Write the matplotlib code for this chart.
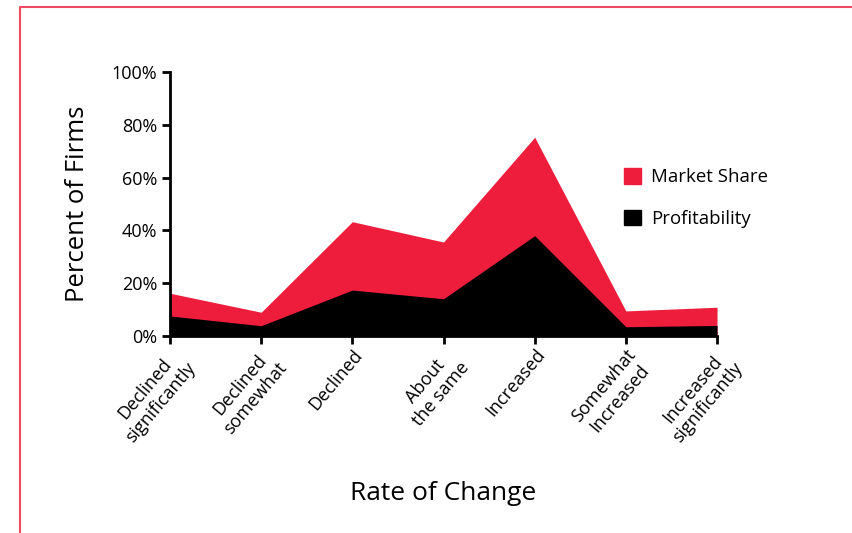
import matplotlib
matplotlib.use('Agg')
from matplotlib import pyplot as plt
from matplotlib.patches import Patch
from matplotlib.lines import Line2D
import numpy as np

categories = ['Declined\nsignificantly', 'Declined\nsomewhat', 'Declined',
              'About\nthe same', 'Increased', 'Somewhat\nIncreased',
              'Increased\nsignificantly']
market_share = [16.2, 9.0, 43.3, 35.6, 75.3, 9.5, 10.9]
profitability = [7.6, 3.9, 17.4, 14.1, 38.0, 3.5, 4.0]
y_ticks = [0, 20, 40, 60, 80, 100]

RED = '#ee1d3c'
plt.rcParams['font.family'] = ['Open Sans', 'DejaVu Sans']

fig = plt.figure(figsize=(8.53, 5.33), dpi=100)
ax = fig.add_axes([0.1993, 0.3696, 0.6413, 0.4953])

x = np.arange(len(categories))
ax.fill_between(x, 0, market_share, color=RED, linewidth=0)
ax.fill_between(x, 0, profitability, color='black', linewidth=0)

ax.set_xlim(0, len(categories) - 1)
ax.set_ylim(0, 100)
ax.set_yticks(y_ticks)
ax.set_yticklabels(['%d%%' % v for v in y_ticks], fontsize=13)
ax.set_xticks(x)
ax.set_xticklabels(categories, fontsize=13, rotation=50, ha='right',
                   va='top', rotation_mode='anchor', multialignment='center',
                   linespacing=1.15)

for side in ['top', 'right']:
    ax.spines[side].set_visible(False)
for side in ['left', 'bottom']:
    ax.spines[side].set_linewidth(2)
ax.tick_params(axis='both', length=6, width=2, direction='out')
ax.tick_params(axis='x', pad=1)
ax.tick_params(axis='y', pad=3)

ax.set_ylabel('Percent of Firms', fontsize=18.5)
ax.set_xlabel('Rate of Change', fontsize=19)
ax.yaxis.set_label_coords(-0.147, 0.5)
ax.xaxis.set_label_coords(0.5, -0.55)

handles = [Patch(color=RED, label='Market Share'),
           Patch(color='black', label='Profitability')]
fig.legend(handles=handles, loc='upper left', bbox_to_anchor=(0.712, 0.716),
           frameon=False, fontsize=13.4, handlelength=0.9, handleheight=0.9,
           handletextpad=0.55, labelspacing=1.25)

# red frame around the figure
fig.add_artist(Line2D([20 / 853, 20 / 853, 1.0], [0.0, 1 - 7 / 533, 1 - 7 / 533],
                      transform=fig.transFigure, color='#ee4a62', linewidth=1.5))

fig.savefig('out.png', dpi=100)
